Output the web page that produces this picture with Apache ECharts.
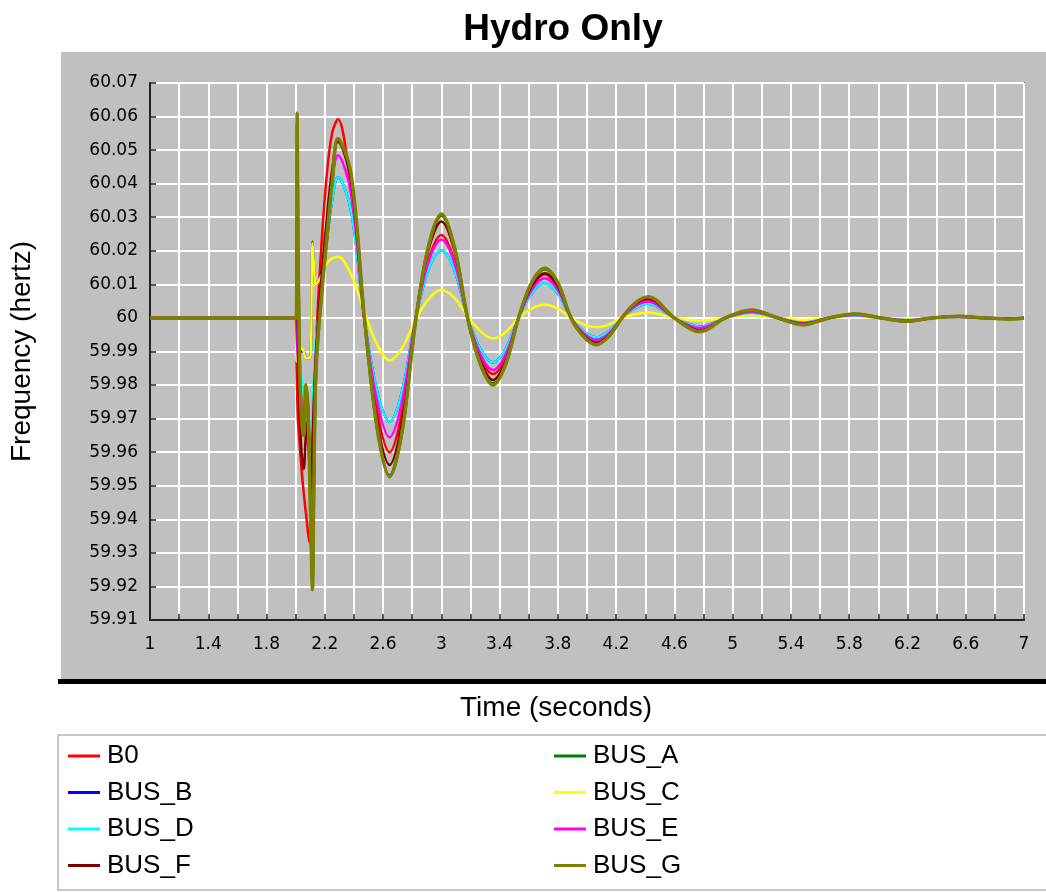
<!DOCTYPE html>
<html>
<head>
<meta charset="utf-8">
<title>Hydro Only</title>
<script src="https://cdn.jsdelivr.net/npm/echarts@6/dist/echarts.min.js"></script>
<style>
  html, body { margin: 0; padding: 0; background: #fff; }
</style>
</head>
<body>
<div id="chart" style="width: 1046px; height: 892px"></div>
<script>
  // time samples (seconds), shared by every bus
  const time = [1.0, 2.0, 2.005, 2.01, 2.015, 2.025, 2.04, 2.055, 2.07, 2.085, 2.095, 2.105, 2.115, 2.125, 2.14, 2.17, 2.21, 2.25,
    2.29, 2.38, 2.47, 2.56, 2.645, 2.73, 2.82, 2.91, 3.0, 3.09, 3.18, 3.27, 3.355, 3.44, 3.53, 3.62,
    3.71, 3.8, 3.89, 3.98, 4.065, 4.15, 4.24, 4.33, 4.42, 4.6, 4.775, 4.95, 5.13, 5.31, 5.485, 5.66,
    5.84, 6.02, 6.195, 6.37, 6.55, 6.73, 6.905, 7.0];

  // frequency (Hz) per bus
  const b0 = [60, 60, 59.988, 59.978, 59.970, 59.964, 59.955, 59.948, 59.942, 59.936, 59.933, 59.945, 59.960, 59.972, 59.992, 60.017, 60.041, 60.055,
    60.0592, 60.038, 60.000, 59.972, 59.960, 59.972, 59.999, 60.017, 60.0247, 60.017, 60.000, 59.988, 59.9833, 59.988, 60.000, 60.009,
    60.013, 60.009, 60.000, 59.995, 59.9928, 59.995, 60.000, 60.0039, 60.0055, 60.000, 59.9965, 60.000, 60.002, 60.000, 59.9983, 60.000,
    60.001, 60.000, 59.9992, 60.000, 60.0004, 60.000, 59.9998, 60.000];
  const busA = [60, 60, 60, 60.058, 60.028, 59.991, 59.971, 59.966, 59.980, 59.973, 59.957, 59.937, 59.922, 59.951, 59.985, 60.003, 60.022, 60.040,
    60.053, 60.042, 60.001, 59.967, 59.953, 59.966, 59.998, 60.021, 60.0305, 60.021, 60.000, 59.986, 59.9805, 59.986, 60.000, 60.0104,
    60.0146, 60.0104, 60.000, 59.9944, 59.9922, 59.9946, 60.000, 60.0043, 60.0062, 60.000, 59.996, 60.000, 60.0023, 60.000, 59.998, 60.000,
    60.0012, 60.000, 59.999, 60.000, 60.0005, 60.000, 59.9997, 60.000];
  const busB = [60, 60, 59.998, 59.995, 59.992, 59.990, 59.990, 59.990, 59.988, 59.988, 59.988, 59.990, 60.0227, 60.016, 60.010, 60.012, 60.022, 60.035,
    60.0419, 60.032, 60.000, 59.978, 59.9691, 59.978, 59.999, 60.0143, 60.0202, 60.0143, 60.000, 59.9906, 59.9867, 59.9906, 60.000, 60.0073,
    60.0103, 60.0073, 60.000, 59.9959, 59.9942, 59.996, 60.000, 60.003, 60.0042, 60.000, 59.9974, 60.000, 60.0015, 60.000, 59.9987, 60.000,
    60.0007, 60.000, 59.9994, 60.000, 60.0003, 60.000, 59.9999, 60.000];
  const busC = [60, 60, 59.988, 59.987, 59.988, 59.990, 59.991, 59.990, 59.988, 59.988, 59.988, 59.990, 60.0223, 60.016, 60.010, 60.012, 60.016, 60.0178,
    60.0182, 60.013, 60.002, 59.992, 59.9873, 59.991, 59.999, 60.0055, 60.0083, 60.006, 60.0005, 59.996, 59.9939, 59.9957, 60.000, 60.0028,
    60.0039, 60.0028, 60.000, 59.998, 59.9972, 59.998, 60.000, 60.0011, 60.0016, 60.000, 59.9992, 60.000, 60.0009, 60.000, 59.9994, 60.000,
    60.0004, 60.000, 59.9997, 60.000, 60.0002, 60.000, 59.9999, 60.000];
  const busD = [60, 60, 59.998, 59.995, 59.992, 59.987, 59.982, 59.978, 59.974, 59.971, 59.969, 59.969, 59.974, 59.982, 59.994, 60.005, 60.022, 60.035,
    60.0419, 60.032, 60.000, 59.978, 59.9691, 59.978, 59.999, 60.0143, 60.0202, 60.0143, 60.000, 59.9906, 59.9867, 59.9906, 60.000, 60.0073,
    60.0103, 60.0073, 60.000, 59.9959, 59.9942, 59.996, 60.000, 60.003, 60.0042, 60.000, 59.9974, 60.000, 60.0015, 60.000, 59.9987, 60.000,
    60.0007, 60.000, 59.9994, 60.000, 60.0003, 60.000, 59.9999, 60.000];
  const busE = [60, 60, 59.997, 59.992, 59.988, 59.982, 59.975, 59.970, 59.966, 59.962, 59.959, 59.958, 59.965, 59.975, 59.990, 60.006, 60.026, 60.041,
    60.0485, 60.037, 60.000, 59.975, 59.9644, 59.975, 59.999, 60.0165, 60.0234, 60.0165, 60.000, 59.989, 59.9845, 59.989, 60.000, 60.0083,
    60.0118, 60.0083, 60.000, 59.9953, 59.9934, 59.9954, 60.000, 60.0035, 60.0049, 60.000, 59.997, 60.000, 60.0018, 60.000, 59.9985, 60.000,
    60.0009, 60.000, 59.9993, 60.000, 60.0003, 60.000, 59.9999, 60.000];
  const busF = [60, 60, 60.005, 60.015, 59.995, 59.975, 59.960, 59.955, 59.965, 59.970, 59.955, 59.949, 59.960, 59.975, 59.990, 60.008, 60.028, 60.044,
    60.0525, 60.041, 60.000, 59.969, 59.9562, 59.969, 59.9985, 60.020, 60.0287, 60.020, 60.000, 59.987, 59.9815, 59.987, 60.000, 60.0094,
    60.0133, 60.0094, 60.000, 59.9947, 59.9925, 59.9948, 60.000, 60.0041, 60.0058, 60.000, 59.9962, 60.000, 60.0022, 60.000, 59.9982, 60.000,
    60.0011, 60.000, 59.9991, 60.000, 60.0004, 60.000, 59.9998, 60.000];
  const busG = [60, 60, 60, 60.061, 60.030, 59.990, 59.970, 59.965, 59.980, 59.972, 59.955, 59.935, 59.919, 59.950, 59.985, 60.003, 60.022, 60.040,
    60.0535, 60.043, 60.001, 59.967, 59.9527, 59.966, 59.998, 60.021, 60.031, 60.021, 60.000, 59.986, 59.980, 59.986, 60.000, 60.0105,
    60.0148, 60.0105, 60.000, 59.9943, 59.992, 59.9945, 60.000, 60.0044, 60.0063, 60.000, 59.9959, 60.000, 60.0024, 60.000, 59.998, 60.000,
    60.0012, 60.000, 59.999, 60.000, 60.0005, 60.000, 59.9997, 60.000];

  const FONT = '"Liberation Sans", Arial, sans-serif';

  function lineSeries(name, values, color, width) {
    return {
      name: name,
      type: 'line',
      data: time.map((t, i) => [t, values[i]]),
      symbol: 'none',
      showSymbol: false,
      smooth: 0.35,
      lineStyle: {color: color, width: width},
      itemStyle: {color: color},
      emphasis: {disabled: true}
    };
  }

  let chart = echarts.init(document.getElementById('chart'));
  let option = {
    animation: false,
    backgroundColor: '#ffffff',
    title: {
      text: 'Hydro Only',
      left: 558,
      top: 6,
      textAlign: 'center',
      textStyle: {fontSize: 37, fontWeight: 'bold', color: '#000', fontFamily: FONT}
    },
    graphic: [
      {type: 'rect', z: -100, shape: {x: 61, y: 52, width: 985, height: 628}, style: {fill: '#c0c0c0'}},
      {type: 'rect', z: -100, shape: {x: 58, y: 679, width: 988, height: 5}, style: {fill: '#000'}},
      {type: 'rect', z: -100, shape: {x: 58, y: 735, width: 1000, height: 155}, style: {fill: '#fff', stroke: '#c8c8c8', lineWidth: 2}},
      {
        type: 'text', z: 10,
        style: {
          text: 'Time (seconds)', x: 556, y: 708,
          textAlign: 'center', textVerticalAlign: 'middle',
          fontSize: 28, fontFamily: FONT, fill: '#000'
        }
      }
    ],
    grid: {
      left: 150, right: 22, top: 83, bottom: 272,
      show: true, borderColor: '#333', borderWidth: 1.5, backgroundColor: 'transparent',
      containLabel: false, outerBoundsMode: 'none'
    },
    legend: [
      {
        data: ['B0', 'BUS_B', 'BUS_D', 'BUS_F'],
        orient: 'vertical', left: 68, top: 743, padding: 0, itemGap: 10.5,
        icon: 'rect', itemWidth: 32, itemHeight: 3, selectedMode: false,
        textStyle: {fontSize: 26, lineHeight: 26, color: '#000', fontFamily: FONT, padding: [0, 0, 0, 2]}
      },
      {
        data: ['BUS_A', 'BUS_C', 'BUS_E', 'BUS_G'],
        orient: 'vertical', left: 554, top: 743, padding: 0, itemGap: 10.5,
        icon: 'rect', itemWidth: 32, itemHeight: 3, selectedMode: false,
        textStyle: {fontSize: 26, lineHeight: 26, color: '#000', fontFamily: FONT, padding: [0, 0, 0, 2]}
      }
    ],
    xAxis: {
      type: 'value', min: 1, max: 7, interval: 0.2,
      axisLine: {show: true, lineStyle: {color: '#222', width: 2}},
      axisTick: {show: true, inside: true, length: 6, lineStyle: {color: '#222', width: 1.5}},
      axisLabel: {
        color: '#000', fontSize: 17, fontFamily: '"DejaVu Sans", sans-serif', margin: 16,
        formatter: function (v) {
          let k = Math.round((v - 1) * 10);
          return k % 4 === 0 ? String(parseFloat(v.toFixed(1))) : '';
        }
      },
      splitLine: {show: true, lineStyle: {color: '#ffffff', width: 2}}
    },
    yAxis: {
      type: 'value', min: 59.91, max: 60.07, interval: 0.01,
      name: 'Frequency (hertz)', nameLocation: 'middle', nameRotate: 90, nameGap: 114,
      nameTextStyle: {fontSize: 28, color: '#000', fontFamily: FONT},
      axisLine: {show: true, lineStyle: {color: '#222', width: 2}},
      axisTick: {show: true, inside: true, length: 6, lineStyle: {color: '#222', width: 1.5}},
      axisLabel: {
        color: '#000', fontSize: 17, fontFamily: '"DejaVu Sans", sans-serif', margin: 12,
        formatter: function (v) {
          return String(parseFloat(v.toFixed(2)));
        }
      },
      splitLine: {show: true, lineStyle: {color: '#ffffff', width: 2}}
    },
    series: [
      lineSeries('B0', b0, '#ff0000', 2.5),
      lineSeries('BUS_A', busA, '#008000', 3),
      lineSeries('BUS_B', busB, '#0000ff', 2.5),
      lineSeries('BUS_C', busC, '#ffff00', 2.5),
      lineSeries('BUS_D', busD, '#00ffff', 2.5),
      lineSeries('BUS_E', busE, '#ff00ff', 2.5),
      lineSeries('BUS_F', busF, '#800000', 2.5),
      lineSeries('BUS_G', busG, '#808000', 3.5)
    ]
  };
  chart.setOption(option);
</script>
</body>
</html>
